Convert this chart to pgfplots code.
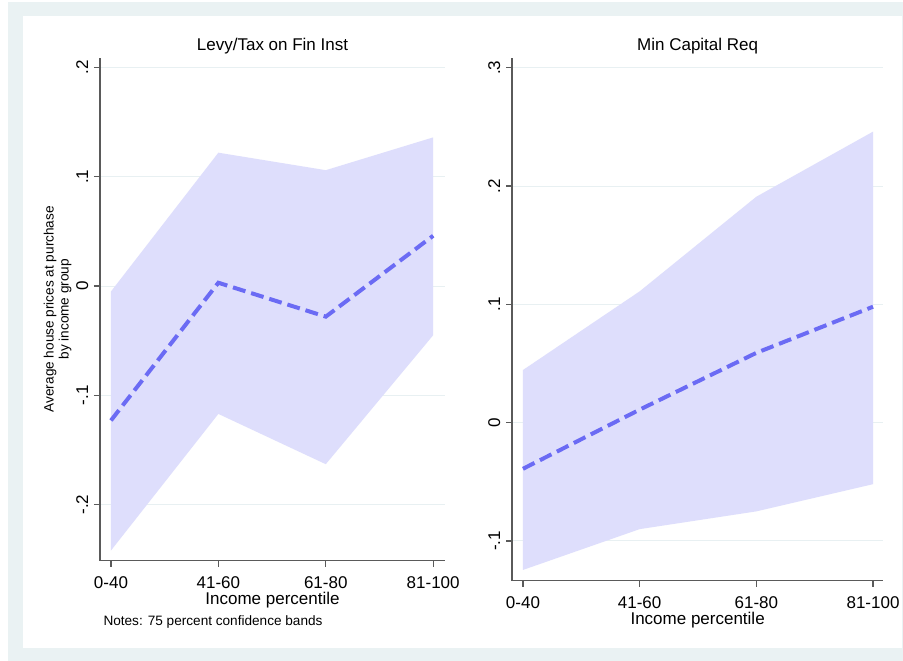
\documentclass[border=0pt]{standalone}
\usepackage{pgfplots}
\pgfplotsset{compat=1.18}
\usepackage{fontspec}
\setmainfont{Liberation Sans}
\definecolor{bgc}{HTML}{EAF2F3}
\definecolor{bandc}{HTML}{DEDEFC}
\definecolor{linec}{HTML}{6B6BF4}
\definecolor{axc}{HTML}{5A5A5A}
\definecolor{gridc}{HTML}{E8F0F2}
\pgfplotsset{
  stata/.style={
    scale only axis,
    anchor=south west,
    clip=false,
    axis x line*=bottom,
    axis y line*=left,
    axis line style={axc, line width=1.2bp},
    every tick/.style={axc, line width=1.2bp},
    tick align=outside,
    major tick length=6bp,
    xtick={0,1,2,3},
    xticklabels={0-40,41-60,61-80,81-100},
    xmin=-0.1, xmax=3.1,
    ymajorgrids,
    major grid style={gridc, line width=1bp},
    xticklabel style={font=\fontsize{17bp}{20bp}\selectfont, anchor=base, yshift=-22bp, inner sep=0pt},
    yticklabel style={font=\fontsize{17bp}{20bp}\selectfont, rotate=90, anchor=base, yshift=6bp},
    title style={font=\fontsize{17bp}{20bp}\selectfont, at={(axis description cs:0.5,1)}, anchor=base, yshift=1bp},
    xlabel style={font=\fontsize{17bp}{20bp}\selectfont, at={(axis description cs:0.5,0)}, anchor=base, yshift=-44bp, inner sep=0pt},
    xlabel={Income percentile},
  }
}
\begin{document}
\begin{tikzpicture}
\useasboundingbox (0,0) rectangle (903bp,-661bp);
\fill[white] (0,0) rectangle (903bp,-661bp);
\fill[bgc] (8bp,-2bp) rectangle (903bp,-661bp);
\fill[white] (22.7bp,-16bp) rectangle (901.7bp,-648bp);

% Left panel
\begin{axis}[stata,
  at={(100bp,-560.7bp)},
  width=345bp, height=503bp,
  xmin=-0.102, xmax=3.11,
  ymin=-0.2513, ymax=0.2089,
  ytick={-0.2,-0.1,0,0.1,0.2},
  yticklabels={-.2,-.1,0,.1,.2},
  title={Levy/Tax on Fin Inst},
  ylabel={Average house prices at purchase\\by income group},
  ylabel style={font=\fontsize{13.6bp}{15bp}\selectfont, align=center, at={(axis description cs:0,0.5)}, anchor=center, yshift=42.5bp},
]
\addplot[fill=bandc, draw=none] coordinates {
  (0,-0.005) (1,0.122) (2,0.106) (3,0.136)
  (3,-0.045) (2,-0.163) (1,-0.117) (0,-0.242)
} -- cycle;
\addplot[linec, line width=4bp, dash pattern=on 13bp off 6bp] coordinates {
  (0,-0.123) (1,0.003) (2,-0.028) (3,0.046)
};
\node[font=\fontsize{13.6bp}{15bp}\selectfont, anchor=base west, inner sep=0pt] at (axis description cs:0,0) [xshift=3.3bp, yshift=-64.3bp] {Notes: 75 percent confidence bands};
\end{axis}

% Right panel
\begin{axis}[stata,
  at={(512bp,-580.7bp)},
  width=371.3bp, height=523bp,
  xmin=-0.094, xmax=3.088,
  ymin=-0.1336, ymax=0.3085,
  ytick={-0.1,0,0.1,0.2,0.3},
  yticklabels={-.1,0,.1,.2,.3},
  title={Min Capital Req},
]
\addplot[fill=bandc, draw=none] coordinates {
  (0,0.0445) (1,0.111) (2,0.191) (3,0.246)
  (3,-0.052) (2,-0.075) (1,-0.090) (0,-0.1245)
} -- cycle;
\addplot[linec, line width=4bp, dash pattern=on 13bp off 6bp] coordinates {
  (0,-0.039) (1,0.011) (2,0.059) (3,0.098)
};
\end{axis}
\end{tikzpicture}
\end{document}
